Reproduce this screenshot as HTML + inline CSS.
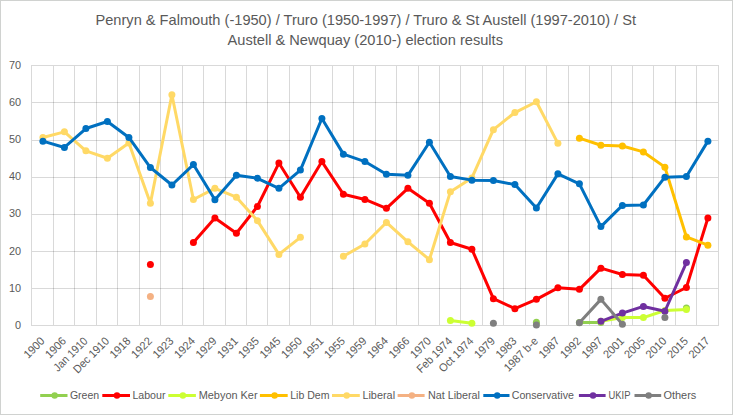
<!DOCTYPE html>
<html><head><meta charset="utf-8"><title>Election results chart</title>
<style>html,body{margin:0;padding:0;background:#fff;}svg{display:block;font-family:"Liberation Sans",sans-serif;}</style>
</head><body>
<svg width="733" height="415" viewBox="0 0 733 415">
<rect x="0" y="0" width="733" height="415" fill="#fff"/>
<rect x="0.5" y="0.5" width="732" height="414" fill="none" stroke="#d0d2d0" stroke-width="1"/>
<g fill="#595959" font-size="14.3">
<text x="95.5" y="24.8" textLength="540.5" lengthAdjust="spacingAndGlyphs">Penryn &amp; Falmouth (-1950) / Truro (1950-1997) / Truro &amp; St Austell (1997-2010) / St</text>
<text x="227.5" y="45" textLength="275.5" lengthAdjust="spacingAndGlyphs">Austell &amp; Newquay (2010-) election results</text>
</g>
<g stroke="rgba(0,0,0,0.15)" stroke-width="1" fill="none">
<line x1="32" y1="288.5" x2="718" y2="288.5"/>
<line x1="32" y1="251.5" x2="718" y2="251.5"/>
<line x1="32" y1="214.5" x2="718" y2="214.5"/>
<line x1="32" y1="177.5" x2="718" y2="177.5"/>
<line x1="32" y1="140.5" x2="718" y2="140.5"/>
<line x1="32" y1="102.5" x2="718" y2="102.5"/>
<line x1="53.5" y1="66" x2="53.5" y2="325"/>
<line x1="74.5" y1="66" x2="74.5" y2="325"/>
<line x1="96.5" y1="66" x2="96.5" y2="325"/>
<line x1="117.5" y1="66" x2="117.5" y2="325"/>
<line x1="139.5" y1="66" x2="139.5" y2="325"/>
<line x1="160.5" y1="66" x2="160.5" y2="325"/>
<line x1="182.5" y1="66" x2="182.5" y2="325"/>
<line x1="203.5" y1="66" x2="203.5" y2="325"/>
<line x1="225.5" y1="66" x2="225.5" y2="325"/>
<line x1="246.5" y1="66" x2="246.5" y2="325"/>
<line x1="267.5" y1="66" x2="267.5" y2="325"/>
<line x1="289.5" y1="66" x2="289.5" y2="325"/>
<line x1="310.5" y1="66" x2="310.5" y2="325"/>
<line x1="332.5" y1="66" x2="332.5" y2="325"/>
<line x1="353.5" y1="66" x2="353.5" y2="325"/>
<line x1="375.5" y1="66" x2="375.5" y2="325"/>
<line x1="396.5" y1="66" x2="396.5" y2="325"/>
<line x1="418.5" y1="66" x2="418.5" y2="325"/>
<line x1="439.5" y1="66" x2="439.5" y2="325"/>
<line x1="460.5" y1="66" x2="460.5" y2="325"/>
<line x1="482.5" y1="66" x2="482.5" y2="325"/>
<line x1="503.5" y1="66" x2="503.5" y2="325"/>
<line x1="525.5" y1="66" x2="525.5" y2="325"/>
<line x1="546.5" y1="66" x2="546.5" y2="325"/>
<line x1="568.5" y1="66" x2="568.5" y2="325"/>
<line x1="589.5" y1="66" x2="589.5" y2="325"/>
<line x1="611.5" y1="66" x2="611.5" y2="325"/>
<line x1="632.5" y1="66" x2="632.5" y2="325"/>
<line x1="653.5" y1="66" x2="653.5" y2="325"/>
<line x1="675.5" y1="66" x2="675.5" y2="325"/>
<line x1="696.5" y1="66" x2="696.5" y2="325"/>
</g>
<rect x="31.5" y="65.5" width="687" height="260" fill="none" stroke="#d9d9d9" stroke-width="1"/>
<g fill="#595959" font-size="10.9" text-anchor="end">
<text x="21" y="328.8">0</text>
<text x="21" y="291.66">10</text>
<text x="21" y="254.51">20</text>
<text x="21" y="217.37">30</text>
<text x="21" y="180.23">40</text>
<text x="21" y="143.09">50</text>
<text x="21" y="105.94">60</text>
<text x="21" y="68.8">70</text>
</g>
<g fill="#595959" font-size="11.4" text-anchor="end">
<text x="45.4" y="341.8" transform="rotate(-45 45.4 341.8)" textLength="24.33" lengthAdjust="spacingAndGlyphs">1900</text>
<text x="66.9" y="341.8" transform="rotate(-45 66.9 341.8)" textLength="24.33" lengthAdjust="spacingAndGlyphs">1906</text>
<text x="88.4" y="341.8" transform="rotate(-45 88.4 341.8)" textLength="42.91" lengthAdjust="spacingAndGlyphs">Jan 1910</text>
<text x="109.9" y="341.8" transform="rotate(-45 109.9 341.8)" textLength="45.47" lengthAdjust="spacingAndGlyphs">Dec 1910</text>
<text x="131.4" y="341.8" transform="rotate(-45 131.4 341.8)" textLength="24.33" lengthAdjust="spacingAndGlyphs">1918</text>
<text x="152.9" y="341.8" transform="rotate(-45 152.9 341.8)" textLength="24.33" lengthAdjust="spacingAndGlyphs">1922</text>
<text x="174.4" y="341.8" transform="rotate(-45 174.4 341.8)" textLength="24.33" lengthAdjust="spacingAndGlyphs">1923</text>
<text x="195.9" y="341.8" transform="rotate(-45 195.9 341.8)" textLength="24.33" lengthAdjust="spacingAndGlyphs">1924</text>
<text x="217.4" y="341.8" transform="rotate(-45 217.4 341.8)" textLength="24.33" lengthAdjust="spacingAndGlyphs">1929</text>
<text x="238.9" y="341.8" transform="rotate(-45 238.9 341.8)" textLength="24.33" lengthAdjust="spacingAndGlyphs">1931</text>
<text x="259.9" y="341.8" transform="rotate(-45 259.9 341.8)" textLength="24.33" lengthAdjust="spacingAndGlyphs">1935</text>
<text x="281.4" y="341.8" transform="rotate(-45 281.4 341.8)" textLength="24.33" lengthAdjust="spacingAndGlyphs">1945</text>
<text x="302.9" y="341.8" transform="rotate(-45 302.9 341.8)" textLength="24.33" lengthAdjust="spacingAndGlyphs">1950</text>
<text x="324.4" y="341.8" transform="rotate(-45 324.4 341.8)" textLength="24.33" lengthAdjust="spacingAndGlyphs">1951</text>
<text x="345.9" y="341.8" transform="rotate(-45 345.9 341.8)" textLength="24.33" lengthAdjust="spacingAndGlyphs">1955</text>
<text x="367.4" y="341.8" transform="rotate(-45 367.4 341.8)" textLength="24.33" lengthAdjust="spacingAndGlyphs">1959</text>
<text x="388.9" y="341.8" transform="rotate(-45 388.9 341.8)" textLength="24.33" lengthAdjust="spacingAndGlyphs">1964</text>
<text x="410.4" y="341.8" transform="rotate(-45 410.4 341.8)" textLength="24.33" lengthAdjust="spacingAndGlyphs">1966</text>
<text x="431.9" y="341.8" transform="rotate(-45 431.9 341.8)" textLength="24.33" lengthAdjust="spacingAndGlyphs">1970</text>
<text x="452.9" y="341.8" transform="rotate(-45 452.9 341.8)" textLength="44.83" lengthAdjust="spacingAndGlyphs">Feb 1974</text>
<text x="474.4" y="341.8" transform="rotate(-45 474.4 341.8)" textLength="44.08" lengthAdjust="spacingAndGlyphs">Oct 1974</text>
<text x="495.9" y="341.8" transform="rotate(-45 495.9 341.8)" textLength="24.33" lengthAdjust="spacingAndGlyphs">1979</text>
<text x="517.4" y="341.8" transform="rotate(-45 517.4 341.8)" textLength="24.33" lengthAdjust="spacingAndGlyphs">1983</text>
<text x="538.9" y="341.8" transform="rotate(-45 538.9 341.8)" textLength="42.99" lengthAdjust="spacingAndGlyphs">1987 b-e</text>
<text x="560.4" y="341.8" transform="rotate(-45 560.4 341.8)" textLength="24.33" lengthAdjust="spacingAndGlyphs">1987</text>
<text x="581.9" y="341.8" transform="rotate(-45 581.9 341.8)" textLength="24.33" lengthAdjust="spacingAndGlyphs">1992</text>
<text x="603.4" y="341.8" transform="rotate(-45 603.4 341.8)" textLength="24.33" lengthAdjust="spacingAndGlyphs">1997</text>
<text x="624.9" y="341.8" transform="rotate(-45 624.9 341.8)" textLength="24.33" lengthAdjust="spacingAndGlyphs">2001</text>
<text x="645.9" y="341.8" transform="rotate(-45 645.9 341.8)" textLength="24.33" lengthAdjust="spacingAndGlyphs">2005</text>
<text x="667.4" y="341.8" transform="rotate(-45 667.4 341.8)" textLength="24.33" lengthAdjust="spacingAndGlyphs">2010</text>
<text x="688.9" y="341.8" transform="rotate(-45 688.9 341.8)" textLength="24.33" lengthAdjust="spacingAndGlyphs">2015</text>
<text x="710.4" y="341.8" transform="rotate(-45 710.4 341.8)" textLength="24.33" lengthAdjust="spacingAndGlyphs">2017</text>
</g>
<g>
<polyline fill="none" stroke="#92D050" stroke-width="3" stroke-linejoin="round" stroke-linecap="round" points="579.4,322.4 600.9,322.4"/>
<circle cx="536.4" cy="322.21" r="3.5" fill="#92D050"/>
<circle cx="579.4" cy="322.4" r="3.5" fill="#92D050"/>
<circle cx="600.9" cy="322.4" r="3.5" fill="#92D050"/>
<circle cx="686.4" cy="307.91" r="3.5" fill="#92D050"/>
</g>
<g>
<polyline fill="none" stroke="#FF0000" stroke-width="3" stroke-linejoin="round" stroke-linecap="round" points="193.4,242.54 214.9,218.03 236.4,233.26 257.4,206.51 278.9,163.06 300.4,197.23 321.9,161.57 343.4,194.26 364.9,199.46 386.4,208.37 407.9,188.31 429.4,203.17 450.4,242.54 471.9,249.23 493.4,298.63 514.9,308.66 536.4,299.37 557.9,287.86 579.4,289.34 600.9,268.17 622.4,274.49 643.4,275.23 664.9,298.26 686.4,287.49 707.9,218.03"/>
<circle cx="150.4" cy="264.46" r="3.5" fill="#FF0000"/>
<circle cx="193.4" cy="242.54" r="3.5" fill="#FF0000"/>
<circle cx="214.9" cy="218.03" r="3.5" fill="#FF0000"/>
<circle cx="236.4" cy="233.26" r="3.5" fill="#FF0000"/>
<circle cx="257.4" cy="206.51" r="3.5" fill="#FF0000"/>
<circle cx="278.9" cy="163.06" r="3.5" fill="#FF0000"/>
<circle cx="300.4" cy="197.23" r="3.5" fill="#FF0000"/>
<circle cx="321.9" cy="161.57" r="3.5" fill="#FF0000"/>
<circle cx="343.4" cy="194.26" r="3.5" fill="#FF0000"/>
<circle cx="364.9" cy="199.46" r="3.5" fill="#FF0000"/>
<circle cx="386.4" cy="208.37" r="3.5" fill="#FF0000"/>
<circle cx="407.9" cy="188.31" r="3.5" fill="#FF0000"/>
<circle cx="429.4" cy="203.17" r="3.5" fill="#FF0000"/>
<circle cx="450.4" cy="242.54" r="3.5" fill="#FF0000"/>
<circle cx="471.9" cy="249.23" r="3.5" fill="#FF0000"/>
<circle cx="493.4" cy="298.63" r="3.5" fill="#FF0000"/>
<circle cx="514.9" cy="308.66" r="3.5" fill="#FF0000"/>
<circle cx="536.4" cy="299.37" r="3.5" fill="#FF0000"/>
<circle cx="557.9" cy="287.86" r="3.5" fill="#FF0000"/>
<circle cx="579.4" cy="289.34" r="3.5" fill="#FF0000"/>
<circle cx="600.9" cy="268.17" r="3.5" fill="#FF0000"/>
<circle cx="622.4" cy="274.49" r="3.5" fill="#FF0000"/>
<circle cx="643.4" cy="275.23" r="3.5" fill="#FF0000"/>
<circle cx="664.9" cy="298.26" r="3.5" fill="#FF0000"/>
<circle cx="686.4" cy="287.49" r="3.5" fill="#FF0000"/>
<circle cx="707.9" cy="218.03" r="3.5" fill="#FF0000"/>
</g>
<g>
<polyline fill="none" stroke="#CCFF33" stroke-width="3" stroke-linejoin="round" stroke-linecap="round" points="450.4,320.54 471.9,323.14"/>
<polyline fill="none" stroke="#CCFF33" stroke-width="3" stroke-linejoin="round" stroke-linecap="round" points="600.9,321.29 622.4,317.57 643.4,317.57 664.9,310.51 686.4,309.4"/>
<circle cx="450.4" cy="320.54" r="3.5" fill="#CCFF33"/>
<circle cx="471.9" cy="323.14" r="3.5" fill="#CCFF33"/>
<circle cx="600.9" cy="321.29" r="3.5" fill="#CCFF33"/>
<circle cx="622.4" cy="317.57" r="3.5" fill="#CCFF33"/>
<circle cx="643.4" cy="317.57" r="3.5" fill="#CCFF33"/>
<circle cx="664.9" cy="310.51" r="3.5" fill="#CCFF33"/>
<circle cx="686.4" cy="309.4" r="3.5" fill="#CCFF33"/>
</g>
<g>
<polyline fill="none" stroke="#FFC000" stroke-width="3" stroke-linejoin="round" stroke-linecap="round" points="579.4,138.17 600.9,145.23 622.4,145.97 643.4,151.91 664.9,167.14 686.4,236.97 707.9,245.14"/>
<circle cx="579.4" cy="138.17" r="3.5" fill="#FFC000"/>
<circle cx="600.9" cy="145.23" r="3.5" fill="#FFC000"/>
<circle cx="622.4" cy="145.97" r="3.5" fill="#FFC000"/>
<circle cx="643.4" cy="151.91" r="3.5" fill="#FFC000"/>
<circle cx="664.9" cy="167.14" r="3.5" fill="#FFC000"/>
<circle cx="686.4" cy="236.97" r="3.5" fill="#FFC000"/>
<circle cx="707.9" cy="245.14" r="3.5" fill="#FFC000"/>
</g>
<g>
<polyline fill="none" stroke="#FFD966" stroke-width="3" stroke-linejoin="round" stroke-linecap="round" points="42.9,137.43 64.4,131.86 85.9,150.8 107.4,158.23 128.9,143 150.4,203.17 171.9,94.71 193.4,199.46 214.9,188.31 236.4,197.23 257.4,220.63 278.9,254.43 300.4,237.34"/>
<polyline fill="none" stroke="#FFD966" stroke-width="3" stroke-linejoin="round" stroke-linecap="round" points="343.4,256.29 364.9,244.03 386.4,222.49 407.9,241.8 429.4,259.63 450.4,191.66 471.9,177.91 493.4,129.63 514.9,112.54 536.4,101.77 557.9,143.37"/>
<circle cx="42.9" cy="137.43" r="3.5" fill="#FFD966"/>
<circle cx="64.4" cy="131.86" r="3.5" fill="#FFD966"/>
<circle cx="85.9" cy="150.8" r="3.5" fill="#FFD966"/>
<circle cx="107.4" cy="158.23" r="3.5" fill="#FFD966"/>
<circle cx="128.9" cy="143" r="3.5" fill="#FFD966"/>
<circle cx="150.4" cy="203.17" r="3.5" fill="#FFD966"/>
<circle cx="171.9" cy="94.71" r="3.5" fill="#FFD966"/>
<circle cx="193.4" cy="199.46" r="3.5" fill="#FFD966"/>
<circle cx="214.9" cy="188.31" r="3.5" fill="#FFD966"/>
<circle cx="236.4" cy="197.23" r="3.5" fill="#FFD966"/>
<circle cx="257.4" cy="220.63" r="3.5" fill="#FFD966"/>
<circle cx="278.9" cy="254.43" r="3.5" fill="#FFD966"/>
<circle cx="300.4" cy="237.34" r="3.5" fill="#FFD966"/>
<circle cx="343.4" cy="256.29" r="3.5" fill="#FFD966"/>
<circle cx="364.9" cy="244.03" r="3.5" fill="#FFD966"/>
<circle cx="386.4" cy="222.49" r="3.5" fill="#FFD966"/>
<circle cx="407.9" cy="241.8" r="3.5" fill="#FFD966"/>
<circle cx="429.4" cy="259.63" r="3.5" fill="#FFD966"/>
<circle cx="450.4" cy="191.66" r="3.5" fill="#FFD966"/>
<circle cx="471.9" cy="177.91" r="3.5" fill="#FFD966"/>
<circle cx="493.4" cy="129.63" r="3.5" fill="#FFD966"/>
<circle cx="514.9" cy="112.54" r="3.5" fill="#FFD966"/>
<circle cx="536.4" cy="101.77" r="3.5" fill="#FFD966"/>
<circle cx="557.9" cy="143.37" r="3.5" fill="#FFD966"/>
</g>
<g>
<circle cx="150.4" cy="296.4" r="3.5" fill="#F4B183"/>
</g>
<g>
<polyline fill="none" stroke="#0070C0" stroke-width="3" stroke-linejoin="round" stroke-linecap="round" points="42.9,141.14 64.4,147.46 85.9,128.51 107.4,121.46 128.9,137.43 150.4,167.51 171.9,184.97 193.4,164.54 214.9,199.83 236.4,175.31 257.4,178.29 278.9,188.31 300.4,170.11 321.9,118.49 343.4,154.14 364.9,161.57 386.4,174.2 407.9,175.31 429.4,142.26 450.4,176.43 471.9,180.14 493.4,180.51 514.9,184.6 536.4,208 557.9,173.83 579.4,183.86 600.9,226.57 622.4,205.4 643.4,205.03 664.9,177.17 686.4,176.43 707.9,141.14"/>
<circle cx="42.9" cy="141.14" r="3.5" fill="#0070C0"/>
<circle cx="64.4" cy="147.46" r="3.5" fill="#0070C0"/>
<circle cx="85.9" cy="128.51" r="3.5" fill="#0070C0"/>
<circle cx="107.4" cy="121.46" r="3.5" fill="#0070C0"/>
<circle cx="128.9" cy="137.43" r="3.5" fill="#0070C0"/>
<circle cx="150.4" cy="167.51" r="3.5" fill="#0070C0"/>
<circle cx="171.9" cy="184.97" r="3.5" fill="#0070C0"/>
<circle cx="193.4" cy="164.54" r="3.5" fill="#0070C0"/>
<circle cx="214.9" cy="199.83" r="3.5" fill="#0070C0"/>
<circle cx="236.4" cy="175.31" r="3.5" fill="#0070C0"/>
<circle cx="257.4" cy="178.29" r="3.5" fill="#0070C0"/>
<circle cx="278.9" cy="188.31" r="3.5" fill="#0070C0"/>
<circle cx="300.4" cy="170.11" r="3.5" fill="#0070C0"/>
<circle cx="321.9" cy="118.49" r="3.5" fill="#0070C0"/>
<circle cx="343.4" cy="154.14" r="3.5" fill="#0070C0"/>
<circle cx="364.9" cy="161.57" r="3.5" fill="#0070C0"/>
<circle cx="386.4" cy="174.2" r="3.5" fill="#0070C0"/>
<circle cx="407.9" cy="175.31" r="3.5" fill="#0070C0"/>
<circle cx="429.4" cy="142.26" r="3.5" fill="#0070C0"/>
<circle cx="450.4" cy="176.43" r="3.5" fill="#0070C0"/>
<circle cx="471.9" cy="180.14" r="3.5" fill="#0070C0"/>
<circle cx="493.4" cy="180.51" r="3.5" fill="#0070C0"/>
<circle cx="514.9" cy="184.6" r="3.5" fill="#0070C0"/>
<circle cx="536.4" cy="208" r="3.5" fill="#0070C0"/>
<circle cx="557.9" cy="173.83" r="3.5" fill="#0070C0"/>
<circle cx="579.4" cy="183.86" r="3.5" fill="#0070C0"/>
<circle cx="600.9" cy="226.57" r="3.5" fill="#0070C0"/>
<circle cx="622.4" cy="205.4" r="3.5" fill="#0070C0"/>
<circle cx="643.4" cy="205.03" r="3.5" fill="#0070C0"/>
<circle cx="664.9" cy="177.17" r="3.5" fill="#0070C0"/>
<circle cx="686.4" cy="176.43" r="3.5" fill="#0070C0"/>
<circle cx="707.9" cy="141.14" r="3.5" fill="#0070C0"/>
</g>
<g>
<polyline fill="none" stroke="#7030A0" stroke-width="3" stroke-linejoin="round" stroke-linecap="round" points="600.9,321.29 622.4,313.11 643.4,306.43 664.9,311.26 686.4,262.6"/>
<circle cx="600.9" cy="321.29" r="3.5" fill="#7030A0"/>
<circle cx="622.4" cy="313.11" r="3.5" fill="#7030A0"/>
<circle cx="643.4" cy="306.43" r="3.5" fill="#7030A0"/>
<circle cx="664.9" cy="311.26" r="3.5" fill="#7030A0"/>
<circle cx="686.4" cy="262.6" r="3.5" fill="#7030A0"/>
</g>
<g>
<polyline fill="none" stroke="#7F7F7F" stroke-width="3" stroke-linejoin="round" stroke-linecap="round" points="579.4,322.77 600.9,299.37 622.4,324.26"/>
<circle cx="493.4" cy="323.14" r="3.5" fill="#7F7F7F"/>
<circle cx="536.4" cy="325" r="3.5" fill="#7F7F7F"/>
<circle cx="579.4" cy="322.77" r="3.5" fill="#7F7F7F"/>
<circle cx="600.9" cy="299.37" r="3.5" fill="#7F7F7F"/>
<circle cx="622.4" cy="324.26" r="3.5" fill="#7F7F7F"/>
<circle cx="664.9" cy="317.57" r="3.5" fill="#7F7F7F"/>
</g>
<g font-size="11.2" fill="#595959">
<line x1="40.2" y1="395.5" x2="67.5" y2="395.5" stroke="#92D050" stroke-width="3"/>
<circle cx="54.65" cy="395.5" r="3.2" fill="#92D050"/>
<text x="69.9" y="399" textLength="29.3" lengthAdjust="spacingAndGlyphs">Green</text>
<line x1="102.3" y1="395.5" x2="130" y2="395.5" stroke="#FF0000" stroke-width="3"/>
<circle cx="116.95" cy="395.5" r="3.2" fill="#FF0000"/>
<text x="132.4" y="399" textLength="33.1" lengthAdjust="spacingAndGlyphs">Labour</text>
<line x1="168.3" y1="395.5" x2="195.9" y2="395.5" stroke="#CCFF33" stroke-width="3"/>
<circle cx="182.9" cy="395.5" r="3.2" fill="#CCFF33"/>
<text x="198.7" y="399" textLength="58.9" lengthAdjust="spacingAndGlyphs">Mebyon Ker</text>
<line x1="259.9" y1="395.5" x2="287.7" y2="395.5" stroke="#FFC000" stroke-width="3"/>
<circle cx="274.6" cy="395.5" r="3.2" fill="#FFC000"/>
<text x="290.2" y="399" textLength="39.3" lengthAdjust="spacingAndGlyphs">Lib Dem</text>
<line x1="332" y1="395.5" x2="359.8" y2="395.5" stroke="#FFD966" stroke-width="3"/>
<circle cx="346.7" cy="395.5" r="3.2" fill="#FFD966"/>
<text x="362.4" y="399" textLength="32.7" lengthAdjust="spacingAndGlyphs">Liberal</text>
<line x1="397.6" y1="395.5" x2="424.6" y2="395.5" stroke="#F4B183" stroke-width="3"/>
<circle cx="411.9" cy="395.5" r="3.2" fill="#F4B183"/>
<text x="427.9" y="399" textLength="52.1" lengthAdjust="spacingAndGlyphs">Nat Liberal</text>
<line x1="483.3" y1="395.5" x2="509.5" y2="395.5" stroke="#0070C0" stroke-width="3"/>
<circle cx="497.2" cy="395.5" r="3.2" fill="#0070C0"/>
<text x="511.7" y="399" textLength="62.2" lengthAdjust="spacingAndGlyphs">Conservative</text>
<line x1="578.9" y1="395.5" x2="605.6" y2="395.5" stroke="#7030A0" stroke-width="3"/>
<circle cx="593.05" cy="395.5" r="3.2" fill="#7030A0"/>
<text x="608.5" y="399" textLength="22" lengthAdjust="spacingAndGlyphs">UKIP</text>
<line x1="634.5" y1="395.5" x2="661.2" y2="395.5" stroke="#7F7F7F" stroke-width="3"/>
<circle cx="648.65" cy="395.5" r="3.2" fill="#7F7F7F"/>
<text x="663.4" y="399" textLength="32.9" lengthAdjust="spacingAndGlyphs">Others</text>
</g>
</svg>
</body></html>
